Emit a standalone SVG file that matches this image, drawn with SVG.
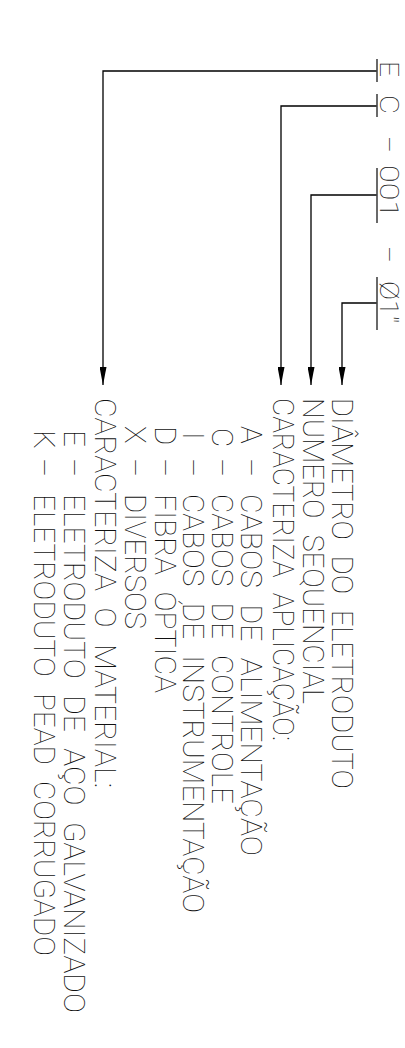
<svg xmlns="http://www.w3.org/2000/svg" width="405" height="1048" viewBox="0 0 405 1048">
<defs>
<marker id="ah" viewBox="0 0 18 7" refX="18" refY="3.5" markerWidth="18" markerHeight="7" markerUnits="userSpaceOnUse" orient="auto"><path d="M0,0 L18,3.5 L0,7 z" fill="#000"/></marker>
</defs>
<style>
.t{font-family:Roboto,"Liberation Sans",sans-serif;font-weight:100;font-size:29.5px;fill:#111;word-spacing:9px}
.c{font-family:Roboto,"Liberation Sans",sans-serif;font-weight:100;font-size:26px;fill:#111}
.ld{fill:none;stroke:#000;stroke-width:1.3}
.tk{stroke:#444;stroke-width:1.6}
</style>
<rect width="405" height="1048" fill="#fff"/>
<g id="connectors">
<path class="ld" d="M377,71 H103 V385" marker-end="url(#ah)"/>
<path class="ld" d="M377,106 H281 V385" marker-end="url(#ah)"/>
<path class="ld" d="M377,195 H311 V385" marker-end="url(#ah)"/>
<path class="ld" d="M377,303 H342 V385" marker-end="url(#ah)"/>
</g>
<g id="code-E"><line class="tk" x1="377" y1="59" x2="377" y2="82"/><text class="c" transform="rotate(90)" x="61" y="-380" textLength="16" lengthAdjust="spacingAndGlyphs">E</text></g>
<g id="code-C"><line class="tk" x1="377" y1="94" x2="377" y2="117"/><text class="c" transform="rotate(90)" x="95" y="-380" textLength="19" lengthAdjust="spacingAndGlyphs">C</text></g>
<g id="code-sep1"><text class="c" transform="rotate(90)" x="136" y="-380">–</text></g>
<g id="code-001"><line class="tk" x1="377" y1="168" x2="377" y2="223"/><text class="c" transform="rotate(90)" x="165" y="-380" textLength="53" lengthAdjust="spacingAndGlyphs">001</text></g>
<g id="code-sep2"><text class="c" transform="rotate(90)" x="246" y="-380">–</text></g>
<g id="code-diam"><line class="tk" x1="377" y1="277" x2="377" y2="330"/><text class="c" transform="rotate(90)" x="281" y="-380" textLength="42" lengthAdjust="spacingAndGlyphs">Ø1"</text></g>
<g id="desc-diametro" transform="rotate(90)"><text class="t" x="398" y="-332" textLength="391" lengthAdjust="spacingAndGlyphs">DIÂMETRO DO ELETRODUTO</text></g>
<g id="desc-numero" transform="rotate(90)"><text class="t" x="398" y="-303" textLength="306" lengthAdjust="spacingAndGlyphs">NUMERO SEQUENCIAL</text></g>
<g id="desc-aplicacao" transform="rotate(90)">
<text class="t" x="398" y="-273" textLength="343" lengthAdjust="spacingAndGlyphs">CARACTERIZA APLICAÇÃO:</text>
<text class="t" x="426" y="-241">A</text><text class="t" x="458" y="-241">–</text><text class="t" x="494" y="-241" textLength="362" lengthAdjust="spacingAndGlyphs">CABOS DE ALIMENTAÇÃO</text>
<text class="t" x="428" y="-212">C</text><text class="t" x="458" y="-212">–</text><text class="t" x="494" y="-212" textLength="310" lengthAdjust="spacingAndGlyphs">CABOS DE CONTROLE</text>
<text class="t" x="432" y="-183">I</text><text class="t" x="458" y="-183">–</text><text class="t" x="494" y="-183" textLength="419" lengthAdjust="spacingAndGlyphs">CABOS DE INSTRUMENTAÇÃO</text>
<text class="t" x="426" y="-155">D</text><text class="t" x="458" y="-155">–</text><text class="t" x="494" y="-155" textLength="199" lengthAdjust="spacingAndGlyphs">FIBRA ÓPTICA</text>
<text class="t" x="426" y="-125">X</text><text class="t" x="458" y="-125">–</text><text class="t" x="494" y="-125" textLength="135" lengthAdjust="spacingAndGlyphs">DIVERSOS</text>
</g>
<g id="desc-material" transform="rotate(90)">
<text class="t" x="398" y="-95" textLength="390" lengthAdjust="spacingAndGlyphs">CARACTERIZA O MATERIAL:</text>
<text class="t" x="430" y="-64">E</text><text class="t" x="458" y="-64">–</text><text class="t" x="494" y="-64" textLength="519" lengthAdjust="spacingAndGlyphs">ELETRODUTO DE AÇO GALVANIZADO</text>
<text class="t" x="430" y="-34">K</text><text class="t" x="458" y="-34">–</text><text class="t" x="494" y="-34" textLength="462" lengthAdjust="spacingAndGlyphs">ELETRODUTO PEAD CORRUGADO</text>
</g>
</svg>
